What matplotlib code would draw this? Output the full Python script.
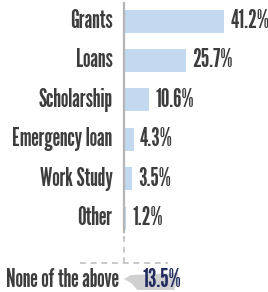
import matplotlib
matplotlib.use("Agg")
import matplotlib.pyplot as plt

categories = ["Grants", "Loans", "Scholarship", "Emergency loan", "Work Study", "Other"]
values = [41.2, 25.7, 10.6, 4.3, 3.5, 1.2]
value_labels = ["41.2%", "25.7%", "10.6%", "4.3%", "3.5%", "1.2%"]
none_label = "None of the above"
none_value = 13.5
none_value_label = "13.5%"

plt.rcParams['font.family'] = ['League Gothic', 'DejaVu Sans']
plt.rcParams['font.weight'] = 'normal'

W, H = 268, 292
fig = plt.figure(figsize=(W / 100, H / 100), dpi=100)
ax = fig.add_axes([0, 0, 1, 1])
ax.axis('off')

px_per_pct = 2.45
x0 = 123.5
ax.set_xlim(-x0 / px_per_pct, (W - x0) / px_per_pct)
ax.set_ylim(H, 0)

# fit font size so that "None of the above" spans ~113 px
renderer = fig.canvas.get_renderer()
t = fig.text(0, 0, none_label, fontsize=10)
w10 = t.get_window_extent(renderer).width
t.remove()
fs = 10 * 113 / w10

ys = [21 + i * 39.4 for i in range(len(categories))]
bar_h = 23
text_col = "#3d3d3d"

ax.barh(ys, values, height=bar_h, color="#c3d9ef", left=0, zorder=2)
for y, v, c, lab in zip(ys, values, categories, value_labels):
    ax.text(-11 / px_per_pct, y, c, ha='right', va='center', fontsize=fs, color=text_col)
    ax.text(v + 6 / px_per_pct, y, lab, ha='left', va='center', fontsize=fs, color=text_col)

# axis line
ax.plot([0, 0], [3, 232], color="#b5b5b5", lw=1.6, zorder=3)
ax.plot([0, 0], [236, 262], color="#c8c8c8", lw=1.4, ls=(0, (3, 2.5)), zorder=3)
ax.plot([-43.5 / px_per_pct, 44 / px_per_pct], [263, 263], color="#c8c8c8", lw=1.4,
        ls=(0, (3, 2.5)), zorder=3)

# none of the above row (decorative wedge behind the value)
yn = 280
sc = none_value / 13.5
poly_x = [v / px_per_pct for v in (0.5, 7.5, 55 * sc, 51 * sc, 14, 7.5)]
poly_y = [yn - 1, yn - 5, yn - 7, yn + 10, yn + 10, yn + 3]
ax.fill(poly_x, poly_y, color="#d0d0d0", zorder=1, lw=0)
ax.text(-5 / px_per_pct, yn, none_label, ha='right', va='center', fontsize=fs, color=text_col)
ax.text(19 / px_per_pct, yn, none_value_label, ha='left', va='center', fontsize=fs,
        color="#1f2a5e")

fig.savefig("out.png", dpi=100)
